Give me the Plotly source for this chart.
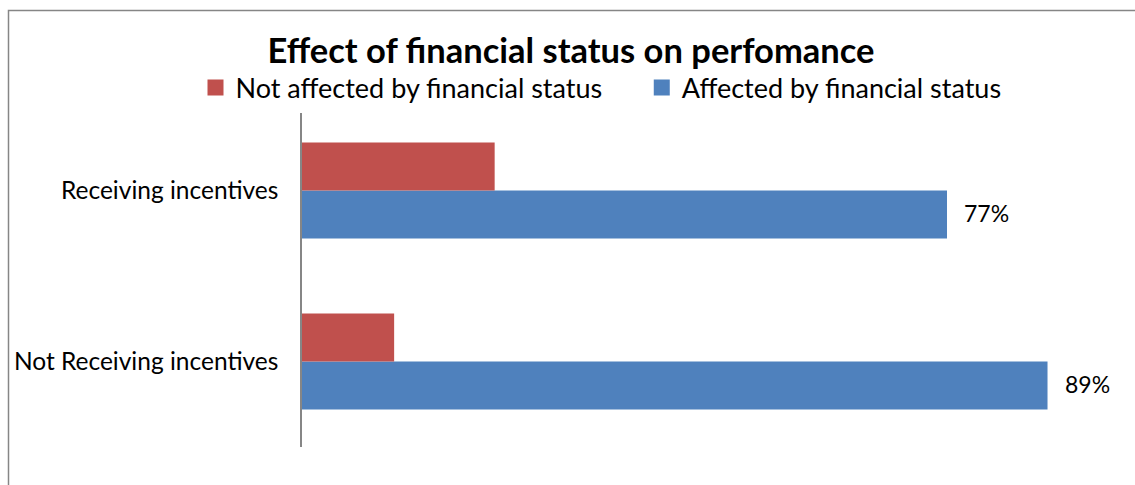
import plotly.graph_objects as go

categories = ["Not Receiving incentives", "Receiving incentives"]
affected = [89, 77]
not_affected = [11, 23]
affected_labels = ["89%", "77%"]
series_names = ["Not affected by financial status", "Affected by financial status"]
colors = ["#C0504D", "#4F81BD"]

FONT = "Lato"
W, H = 1135, 485
L, R, T, B = 302, 0, 105, 38
pw = W - L - R
ph = H - T - B
xmax = pw / (645 / 77)

fig = go.Figure()
fig.add_trace(go.Bar(
    y=categories, x=affected, orientation="h", name=series_names[1],
    marker=dict(color=colors[1], line=dict(width=0)), showlegend=False,
))
fig.add_trace(go.Bar(
    y=categories, x=not_affected, orientation="h", name=series_names[0],
    marker=dict(color=colors[0], line=dict(width=0)), showlegend=False,
))
# legend entries with square swatches (non-breaking spaces widen the gap between entries)
for i, (name, col) in enumerate(zip(series_names, colors)):
    label = name + ("\u00a0" * 5 if i == 0 else "")
    fig.add_trace(go.Scatter(
        x=[None], y=[None], mode="markers", name=label,
        marker=dict(symbol="square", size=16, color=col),
    ))

def px_x(p):
    return (p - L) / pw

def px_y(p):
    return (H - B - p) / ph

annotations = [
    dict(x=v, y=c, xref="x", yref="y", text=t, showarrow=False,
         xanchor="left", yanchor="middle", xshift=15, yshift=-22,
         font=dict(family=FONT, size=23, color="#000000"))
    for v, c, t in zip(affected, categories, affected_labels)
]

fig.update_layout(
    width=W, height=H,
    margin=dict(l=L, r=R, t=T, b=B, autoexpand=False),
    paper_bgcolor="white", plot_bgcolor="white",
    barmode="group", bargap=0.44, bargroupgap=0,
    title=dict(text="<b>Effect of financial status on perfomance</b>",
               x=571 / W, xanchor="center",
               y=1 - 51 / H, yanchor="middle",
               font=dict(family=FONT, size=34.5, color="#000000")),
    legend=dict(orientation="h",
                x=px_x(601), xanchor="center", y=px_y(88), yanchor="middle",
                font=dict(family=FONT, size=27, color="#000000"),
                itemwidth=30, itemsizing="trace"),
    showlegend=True,
    xaxis=dict(range=[0, xmax], visible=False, fixedrange=True),
    yaxis=dict(showline=True, linecolor="#868686", linewidth=1.5,
               ticks="", showgrid=False, zeroline=False,
               ticklabelstandoff=17,
               tickfont=dict(family=FONT, size=24.5, color="#000000")),
    annotations=annotations,
    shapes=[dict(type="rect", xref="paper", yref="paper",
                 x0=px_x(8.5), x1=px_x(W + 20), y0=px_y(10.5), y1=px_y(H + 20),
                 line=dict(color="#868686", width=1.5), fillcolor="rgba(0,0,0,0)",
                 layer="below")],
)

fig.write_html("out.html")
